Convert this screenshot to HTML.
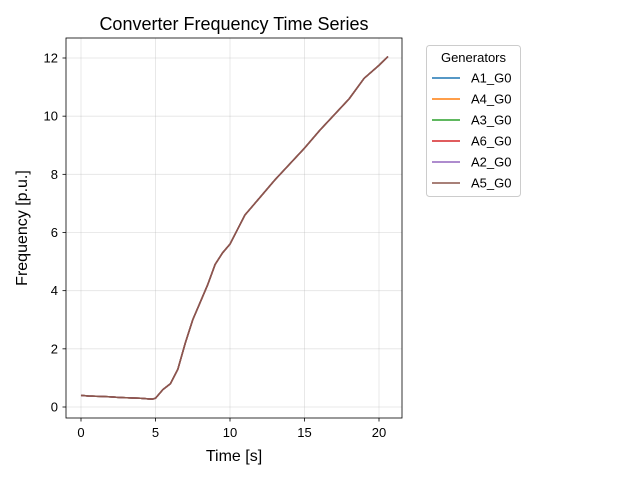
<!DOCTYPE html>
<html><head><meta charset="utf-8"><style>
body{margin:0;background:#fff;font-family:"Liberation Sans","DejaVu Sans",sans-serif}
</style></head><body>
<svg id="c" width="640" height="480" xmlns="http://www.w3.org/2000/svg"></svg>
<script>
const times=[0,0.5,1,1.5,2,2.5,3,3.5,4,4.5,4.8,5,5.5,6,6.5,7,7.5,8,8.5,9,9.5,10,10.5,11,12,13,14,15,16,17,18,19,20,20.6];
const freq=[0.4,0.38,0.37,0.36,0.35,0.33,0.32,0.31,0.3,0.28,0.27,0.3,0.6,0.8,1.3,2.2,3.0,3.6,4.2,4.9,5.3,5.6,6.1,6.6,7.2,7.8,8.35,8.9,9.5,10.05,10.6,11.3,11.75,12.05];
const seriesNames=["A1_G0","A4_G0","A3_G0","A6_G0","A2_G0","A5_G0"];
const seriesColors=["#1f77b4","#ff7f0e","#2ca02c","#d62728","#9467bd","#8c564b"];
const xTicks=[0,5,10,15,20];
const yTicks=[0,2,4,6,8,10,12];
const NS="http://www.w3.org/2000/svg";
const svg=document.getElementById('c');
const L=66,R=402,T=38,B=418;
const X=t=>81+(379-81)*t/20;
const Y=v=>407-(407-58)*v/12;
function mk(tag,a,parent){const e=document.createElementNS(NS,tag);for(const k in a)e.setAttribute(k,a[k]);(parent||svg).appendChild(e);return e;}
function txt(s,a){const e=mk('text',a);e.textContent=s;return e;}
xTicks.forEach(t=>{
 const g=mk('line',{x1:X(t),x2:X(t),y1:T,y2:B,stroke:'#b0b0b0','stroke-opacity':0.35,'stroke-width':0.8});
 
 
 mk('line',{x1:X(t),x2:X(t),y1:B,y2:B+3.5,stroke:'#000','stroke-width':0.8});
 const l=txt(t,{x:X(t),y:B+19,'text-anchor':'middle','font-size':13});
 
 
});
yTicks.forEach(v=>{
 const g=mk('line',{x1:L,x2:R,y1:Y(v),y2:Y(v),stroke:'#b0b0b0','stroke-opacity':0.35,'stroke-width':0.8});
 
 
 mk('line',{x1:L-3.5,x2:L,y1:Y(v),y2:Y(v),stroke:'#000','stroke-width':0.8});
 const l=txt(v,{x:L-8,y:Y(v)+4.5,'text-anchor':'end','font-size':13});
 
 
});
seriesNames.forEach((n,i)=>{
 const p=mk('polyline',{points:times.map((t,j)=>X(t)+','+Y(freq[j])).join(' '),fill:'none',stroke:seriesColors[i],'stroke-width':1.5});
 
 
});
const fr=mk('rect',{x:L,y:T,width:R-L,height:B-T,fill:'none',stroke:'#000','stroke-width':0.8});


const ti=txt('Converter Frequency Time Series',{x:(L+R)/2,y:30,'text-anchor':'middle','font-size':18});


const xt=txt('Time [s]',{x:(L+R)/2,y:461,'text-anchor':'middle','font-size':16});


const yt=txt('Frequency [p.u.]',{x:0,y:0,'text-anchor':'middle','font-size':16,transform:'translate(27,228) rotate(-90)'});


const lg=mk('g',{});


mk('rect',{x:426.5,y:45.5,width:94,height:151,rx:3,fill:'#fff',stroke:'#ccc','stroke-width':1},lg);
const lt=mk('text',{x:473.5,y:62,'text-anchor':'middle','font-size':13},lg);
lt.textContent='Generators';
seriesNames.forEach((n,i)=>{
 const y=78+21*i;
 const e=mk('g',{},lg);
 
 
 mk('line',{x1:432,x2:460,y1:y,y2:y,stroke:seriesColors[i],'stroke-width':1.5},e);
 const t=mk('text',{x:471,y:y+4.5,'font-size':13},e);t.textContent=n;
});
</script>
</body></html>
